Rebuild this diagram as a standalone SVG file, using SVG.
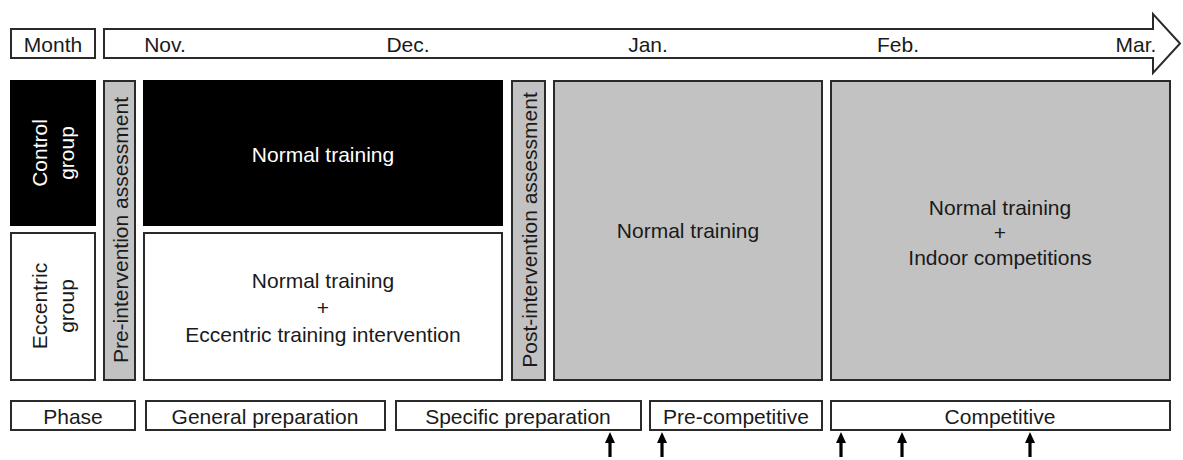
<svg xmlns="http://www.w3.org/2000/svg" width="1183" height="460" viewBox="0 0 1183 460">
<defs>
<style>
.box{fill:#fff;stroke:#2a2a2a;stroke-width:2}
.blk{fill:#000;stroke:#000;stroke-width:2}
.gry{fill:#c2c2c2;stroke:#2a2a2a;stroke-width:2}
text{font-family:"Liberation Sans",Arial,sans-serif;font-size:21px;fill:#1a1a1a;text-anchor:middle;dominant-baseline:central}
.w{fill:#fff}
.arr{fill:#000;stroke:none}
</style>
</defs>
<rect width="1183" height="460" fill="#fff"/>
<g id="month-label">
<rect class="box" x="11" y="29" width="84" height="29"/>
<text x="53" y="44">Month</text>
</g>
<g id="timeline">
<polygon class="box" points="104,29 1153,29 1153,14 1180,43.5 1153,73 1153,58 104,58"/>
<text x="165" y="44">Nov.</text>
<text x="408" y="44">Dec.</text>
<text x="648" y="44">Jan.</text>
<text x="898" y="44">Feb.</text>
<text x="1136" y="44">Mar.</text>
</g>
<g id="control-group">
<rect class="blk" x="11" y="81" width="84" height="144"/>
<text class="w" transform="translate(39,153) rotate(-90)">Control</text>
<text class="w" transform="translate(66,153) rotate(-90)">group</text>
</g>
<g id="eccentric-group">
<rect class="box" x="11" y="233" width="84" height="147"/>
<text transform="translate(39,306) rotate(-90)">Eccentric</text>
<text transform="translate(66,306) rotate(-90)">group</text>
</g>
<g id="pre-assessment">
<rect class="gry" x="104" y="81" width="31" height="299"/>
<text transform="translate(120,230) rotate(-90)">Pre-intervention assessment</text>
</g>
<g id="control-training">
<rect class="blk" x="144" y="81" width="358" height="144"/>
<text class="w" x="323" y="154">Normal training</text>
</g>
<g id="eccentric-training">
<rect class="box" x="144" y="233" width="358" height="147"/>
<text x="323" y="280">Normal training</text>
<text x="323" y="307">+</text>
<text x="323" y="334">Eccentric training intervention</text>
</g>
<g id="post-assessment">
<rect class="gry" x="512" y="81" width="33" height="299"/>
<text transform="translate(529,230) rotate(-90)">Post-intervention assessment</text>
</g>
<g id="normal-training-jan">
<rect class="gry" x="554" y="81" width="268" height="299"/>
<text x="688" y="230">Normal training</text>
</g>
<g id="normal-training-feb">
<rect class="gry" x="831" y="81" width="339" height="299"/>
<text x="1000" y="207">Normal training</text>
<text x="1000" y="232">+</text>
<text x="1000" y="257">Indoor competitions</text>
</g>
<g id="phase-label">
<rect class="box" x="11" y="401" width="124" height="29"/>
<text x="73" y="416">Phase</text>
</g>
<g id="phase-general">
<rect class="box" x="146" y="401" width="239" height="29"/>
<text x="265" y="416">General preparation</text>
</g>
<g id="phase-specific">
<rect class="box" x="396" y="401" width="245" height="29"/>
<text x="518" y="416">Specific preparation</text>
</g>
<g id="phase-precompetitive">
<rect class="box" x="650" y="401" width="172" height="29"/>
<text x="736" y="416">Pre-competitive</text>
</g>
<g id="phase-competitive">
<rect class="box" x="831" y="401" width="339" height="29"/>
<text x="1000" y="416">Competitive</text>
</g>
<g id="connectors">
<g transform="translate(610,0)"><rect class="arr" x="-1.6" y="441" width="3.2" height="16"/><polygon class="arr" points="0,432 -5,443 5,443"/></g>
<g transform="translate(662,0)"><rect class="arr" x="-1.6" y="441" width="3.2" height="16"/><polygon class="arr" points="0,432 -5,443 5,443"/></g>
<g transform="translate(841,0)"><rect class="arr" x="-1.6" y="441" width="3.2" height="16"/><polygon class="arr" points="0,432 -5,443 5,443"/></g>
<g transform="translate(902,0)"><rect class="arr" x="-1.6" y="441" width="3.2" height="16"/><polygon class="arr" points="0,432 -5,443 5,443"/></g>
<g transform="translate(1030,0)"><rect class="arr" x="-1.6" y="441" width="3.2" height="16"/><polygon class="arr" points="0,432 -5,443 5,443"/></g>
</g>
</svg>
